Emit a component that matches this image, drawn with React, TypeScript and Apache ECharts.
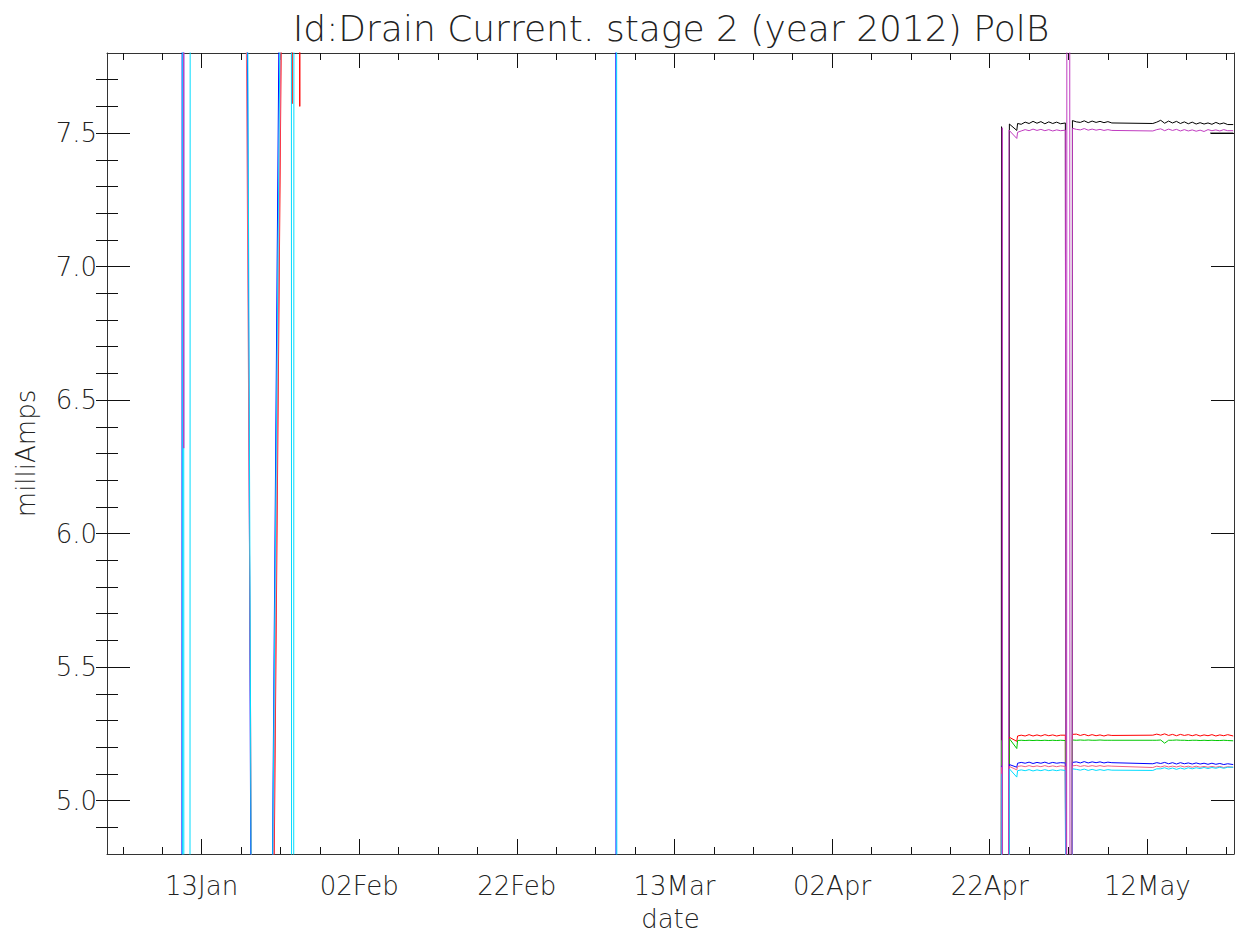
import React, { useEffect, useRef } from "react";
import * as echarts from "echarts";

// x values are days since 1 Jan 2012 (day 12 = 13 Jan)
const X_MIN = 0;
const X_MAX = 143;
const Y_MIN = 4.8;
const Y_MAX = 7.8;

const xLabelDays = [12, 32, 52, 72, 92, 112, 132];
const xLabelTexts = ["13Jan", "02Feb", "22Feb", "13Mar", "02Apr", "22Apr", "12May"];
const xMinorDays = [2, 7, 12, 17, 22, 27, 32, 37, 42, 47, 52, 57, 62, 67, 72, 77, 82, 87, 92, 97, 102, 107, 112, 117, 122, 127, 132, 137, 142];
const yLabelValues = [5.0, 5.5, 6.0, 6.5, 7.0, 7.5];
const yMinorValues = [4.9, 5.0, 5.1, 5.2, 5.3, 5.4, 5.5, 5.6, 5.7, 5.8, 5.9, 6.0, 6.1, 6.2, 6.3, 6.4, 6.5, 6.6, 6.7, 6.8, 6.9, 7.0, 7.1, 7.2, 7.3, 7.4, 7.5, 7.6, 7.7];

// sampled days of the late (April-May) period, three runs of data
const lateDays1 = [115.54, 116.0, 116.5, 117.0, 117.5, 118.0, 118.5, 119.0, 119.5, 120.0, 120.5, 121.0, 121.6];
const lateDays2 = [122.5, 123.0, 123.5, 124.0, 124.5, 125.0, 125.5, 126.0, 126.5, 127.0, 127.5];
const lateDays3 = [132.7, 133.2, 133.7, 134.2, 134.7, 135.2, 135.7, 136.2, 136.7, 137.2, 137.7, 138.2, 138.7, 139.2, 139.7, 140.2, 140.7, 141.2, 141.7, 142.2, 142.9];

// early points [day, mA] (values outside 4.8-7.8 run off the plot)
const blackEarly = [[0, 3], [113.45, 3], [113.5, 7.524], [113.55, 3], [114.45, 3], [114.5, 7.534], [115.44, 7.51]];
const redEarly = [[20.7, 3], [22.45, 9], [23.46, 9], [23.48, 7.61], [23.5, 9], [24.4, 9], [24.46, 7.6], [24.52, 9], [24.6, null], [113.45, 3], [113.5, 5.14], [113.55, 3], [114.45, 3], [114.5, 5.237], [115.44, 5.222]];
const greenEarly = [[0, 3], [113.45, 3], [113.5, 5.225], [113.55, 3], [114.45, 3], [114.5, 5.232], [115.44, 5.195]];
const blueEarly = [[0, 3], [9.5, 3], [9.54, 9], [17.652, 9], [18.492, 3], [20.52, 3], [22.12, 9], [64.56, 9], [64.6, 3], [113.45, 3], [113.5, 5.13], [113.55, 3], [114.45, 3], [114.5, 5.135], [115.44, 5.125]];
const salmonEarly = [[0, 9], [17.434, 9], [18.714, 3], [20.626, 3], [22.406, 9], [22.5, null], [113.45, 3], [113.5, 5.125], [113.55, 3], [114.45, 3], [114.5, 5.128], [115.44, 5.115]];
const cyanEarly = [[0, 3], [9.58, 3], [9.62, 9], [9.72, 9], [9.76, 3], [10.52, 3], [10.56, 9], [17.7, 9], [18.54, 3], [20.496, 3], [22.276, 9], [23.39, 9], [23.43, 3], [23.68, 3], [23.72, 9], [64.66, 9], [64.7, 3], [113.45, 3], [113.5, 5.1], [113.55, 3], [114.45, 3], [114.5, 5.119], [115.44, 5.088]];
const magentaEarly = [[0, 9], [9.72, 9], [9.74, 6.32], [9.76, 9], [9.8, null], [113.55, 3], [113.6, 7.52], [113.65, 3], [114.35, 3], [114.45, 7.511], [115.44, 7.48]];

// gap around 1 May
const plainGap = [[121.75, 3], [122.45, 3]];
const magentaGap = [[121.75, 3], [121.8, 9], [122.15, 9], [122.2, 3], [122.45, 3]];

// late values: run1 (13), run2 (11), run3 (21)
const blackLate = [
  7.536, 7.533, 7.541, 7.536, 7.544, 7.537, 7.543, 7.535, 7.542, 7.536, 7.541, 7.535, 7.538,
  7.547, 7.542, 7.540, 7.546, 7.539, 7.545, 7.540, 7.544, 7.539, 7.543, 7.538,
  7.536, 7.541, 7.548, 7.537, 7.545, 7.538, 7.544, 7.536, 7.542, 7.535, 7.541, 7.534, 7.539, 7.534, 7.538, 7.533, 7.540, 7.534, 7.538, 7.532, 7.532,
];
const magentaLate = [
  7.503, 7.508, 7.513, 7.509, 7.515, 7.510, 7.514, 7.509, 7.513, 7.508, 7.512, 7.509, 7.511,
  7.518, 7.514, 7.512, 7.517, 7.511, 7.515, 7.511, 7.514, 7.510, 7.513, 7.510,
  7.508, 7.513, 7.516, 7.509, 7.515, 7.510, 7.514, 7.508, 7.513, 7.508, 7.512, 7.507, 7.511, 7.506, 7.513, 7.509, 7.512, 7.508, 7.513, 7.509, 7.509,
];
const redLate = [
  5.242, 5.245, 5.242, 5.247, 5.242, 5.246, 5.242, 5.247, 5.243, 5.246, 5.242, 5.245, 5.245,
  5.248, 5.249, 5.244, 5.248, 5.243, 5.247, 5.243, 5.246, 5.242, 5.246, 5.244,
  5.245, 5.249, 5.245, 5.250, 5.244, 5.248, 5.243, 5.248, 5.244, 5.247, 5.243, 5.247, 5.242, 5.246, 5.243, 5.247, 5.242, 5.246, 5.243, 5.247, 5.242,
];
const greenLate = [
  5.225, 5.226, 5.225, 5.226, 5.225, 5.226, 5.225, 5.226, 5.225, 5.226, 5.225, 5.226, 5.225,
  5.227, 5.226, 5.227, 5.226, 5.227, 5.226, 5.226, 5.227, 5.226, 5.226, 5.226,
  5.226, 5.226, 5.227, 5.215, 5.226, 5.226, 5.227, 5.226, 5.226, 5.225, 5.226, 5.226, 5.225, 5.226, 5.225, 5.226, 5.225, 5.225, 5.226, 5.225, 5.224,
];
const blueLate = [
  5.140, 5.143, 5.140, 5.144, 5.139, 5.143, 5.140, 5.144, 5.139, 5.143, 5.140, 5.142, 5.141,
  5.143, 5.145, 5.141, 5.146, 5.141, 5.145, 5.142, 5.145, 5.141, 5.144, 5.142,
  5.138, 5.142, 5.139, 5.143, 5.138, 5.142, 5.137, 5.142, 5.138, 5.141, 5.137, 5.141, 5.137, 5.140, 5.136, 5.140, 5.136, 5.139, 5.135, 5.138, 5.135,
];
const salmonLate = [
  5.128, 5.130, 5.127, 5.131, 5.127, 5.130, 5.127, 5.131, 5.127, 5.130, 5.127, 5.130, 5.128,
  5.130, 5.132, 5.128, 5.131, 5.128, 5.131, 5.128, 5.131, 5.128, 5.130, 5.129,
  5.124, 5.129, 5.126, 5.130, 5.126, 5.129, 5.126, 5.130, 5.126, 5.129, 5.125, 5.129, 5.125, 5.128, 5.125, 5.128, 5.125, 5.128, 5.124, 5.127, 5.125,
];
const cyanLate = [
  5.112, 5.115, 5.112, 5.116, 5.111, 5.115, 5.112, 5.116, 5.112, 5.115, 5.112, 5.115, 5.113,
  5.119, 5.117, 5.114, 5.118, 5.113, 5.117, 5.113, 5.116, 5.113, 5.116, 5.114,
  5.113, 5.119, 5.119, 5.123, 5.118, 5.122, 5.117, 5.122, 5.118, 5.123, 5.119, 5.123, 5.120, 5.124, 5.120, 5.124, 5.121, 5.125, 5.121, 5.125, 5.125,
];
const blackTail = [[139.97, 7.5], [142.9, 7.5]];

const FONT = "DejaVu Sans";
const TEXT_COLOR = "#222";

function build(early: any[], late: number[], gap: any[]) {
  const n1 = lateDays1.length;
  const n2 = lateDays2.length;
  const r1 = lateDays1.map((d, i) => [d, late[i]]);
  const r2 = lateDays2.map((d, i) => [d, late[n1 + i]]);
  const r3 = lateDays3.map((d, i) => [d, late[n1 + n2 + i]]);
  return [...early, ...r1, ...gap, ...r2, ...r3];
}

export default function App() {
  const ref = useRef<HTMLDivElement>(null);
  useEffect(() => {
    document.body.style.margin = "0";
    const chart = echarts.init(ref.current!, null, { renderer: "svg" });
    const hidden = {
      type: "value",
      splitLine: { show: false },
      axisLabel: { show: false },
      axisTick: { show: false },
      axisLine: { show: false },
    };
    const frameLine = { show: true, onZero: false, lineStyle: { color: "#333", width: 1 } };
    const tickStyle = { color: "#111", width: 1 };
    const xBase = { ...hidden, min: X_MIN, max: X_MAX };
    const yBase = { ...hidden, min: Y_MIN, max: Y_MAX };
    const mk = (name: string, color: string, data: any[]) => ({
      type: "line",
      name,
      data,
      showSymbol: false,
      symbol: "none",
      clip: true,
      connectNulls: false,
      lineStyle: { color, width: 1 },
      itemStyle: { color },
      emphasis: { disabled: true },
    });
    chart.setOption({
      animation: false,
      backgroundColor: "#fff",
      title: {
        text: "Id:Drain Current. stage 2 (year 2012) PolB",
        left: 666,
        top: 5,
        textAlign: "center",
        textStyle: { fontFamily: FONT, fontSize: 36, fontWeight: 200, color: TEXT_COLOR },
      },
      grid: { left: 107, right: 7, top: 53, bottom: 83 },
      xAxis: [
        {
          ...xBase,
          position: "bottom",
          axisLine: frameLine,
          axisTick: { show: true, inside: true, length: 15, customValues: xLabelDays, lineStyle: tickStyle },
          axisLabel: {
            show: true,
            customValues: xLabelDays,
            margin: 19,
            fontFamily: FONT,
            fontSize: 26,
            fontWeight: 200,
            color: TEXT_COLOR,
            formatter: (v: number) => {
              const i = xLabelDays.indexOf(Math.round(v));
              return i >= 0 ? xLabelTexts[i] : "";
            },
          },
          name: "date",
          nameLocation: "middle",
          nameGap: 52,
          nameTextStyle: { fontFamily: FONT, fontSize: 26, fontWeight: 200, color: TEXT_COLOR },
        },
        { ...xBase, position: "bottom", axisTick: { show: true, inside: true, length: 7, customValues: xMinorDays, lineStyle: tickStyle } },
        { ...xBase, position: "top", axisLine: frameLine, axisTick: { show: true, inside: true, length: 15, customValues: xLabelDays, lineStyle: tickStyle } },
        { ...xBase, position: "top", axisTick: { show: true, inside: true, length: 7, customValues: xMinorDays, lineStyle: tickStyle } },
      ],
      yAxis: [
        {
          ...yBase,
          position: "left",
          axisLine: frameLine,
          axisTick: { show: true, inside: true, length: 23, customValues: yLabelValues, lineStyle: tickStyle },
          axisLabel: {
            show: true,
            customValues: yLabelValues,
            margin: 10,
            fontFamily: FONT,
            fontSize: 26,
            fontWeight: 200,
            color: TEXT_COLOR,
            formatter: (v: number) => v.toFixed(1),
          },
          name: "milliAmps",
          nameLocation: "middle",
          nameGap: 68,
          nameTextStyle: { fontFamily: FONT, fontSize: 26, fontWeight: 200, color: TEXT_COLOR },
        },
        { ...yBase, position: "left", axisTick: { show: true, inside: true, length: 11, customValues: yMinorValues, lineStyle: tickStyle } },
        { ...yBase, position: "right", axisLine: frameLine, axisTick: { show: true, inside: true, length: 23, customValues: yLabelValues, lineStyle: tickStyle } },
        { ...yBase, position: "right", axisTick: { show: true, inside: true, length: 11, customValues: yMinorValues, lineStyle: tickStyle } },
      ],
      series: [
        mk("black", "#000000", build(blackEarly, blackLate, plainGap)),
        mk("red", "#ff0000", build(redEarly, redLate, plainGap)),
        mk("green", "#00c800", build(greenEarly, greenLate, plainGap)),
        mk("blue", "#0000ff", build(blueEarly, blueLate, plainGap)),
        mk("salmon", "#f06080", build(salmonEarly, salmonLate, plainGap)),
        mk("cyan", "#00dcff", build(cyanEarly, cyanLate, plainGap)),
        mk("magenta", "#c03cc0", build(magentaEarly, magentaLate, magentaGap)),
        mk("black tail", "#000000", blackTail),
      ],
    });
    return () => chart.dispose();
  }, []);
  return <div ref={ref} style={{ width: 1241, height: 937 }} />;
}
